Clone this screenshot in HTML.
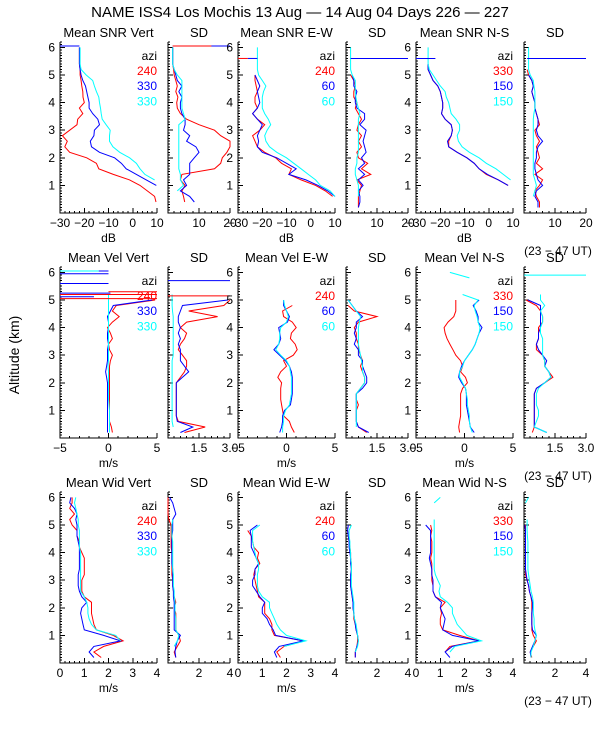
<!DOCTYPE html>
<html><head><meta charset="utf-8"><style>
html,body{margin:0;padding:0;background:#fff;}
svg{display:block;font-family:"Liberation Sans",sans-serif;}
</style></head><body>
<svg id="chart" width="600" height="750" viewBox="0 0 600 750" xmlns="http://www.w3.org/2000/svg">
<rect width="600" height="750" fill="#fff"/>
<text x="300" y="17" font-size="15" text-anchor="middle">NAME ISS4 Los Mochis  13 Aug — 14 Aug 04 Days 226 — 227</text>
<text x="0" y="0" font-size="14" text-anchor="middle" transform="translate(19,355) rotate(-90)">Altitude (km)</text>
<g id="plots"></g>
</svg>
<script>
const N = null;
const hGrid = [0.2,0.4,0.6,0.8,1.0,1.2,1.4,1.6,1.8,2.0,2.2,2.4,2.6,2.8,3.0,3.2,3.4,3.6,3.8,4.0,4.2,4.4,4.6,4.8,5.0,5.2,5.4,5.6,5.8,6.0];

const snrVertR = [N,9.6,9.0,6,3,-1.3,-8,-14,-15,-19,-26,-28,-27,-29,-26,-23,-22.7,-20.6,-22,-20,-20.5,-20.6,-21,-21.3,-21.7,-21.7,-22,-22,-22,-22];
const snrVertB = [N,N,N,N,9.7,5.6,1.5,-2.7,-4.7,-7.5,-13.7,-17,-17.5,-16,-15.8,-13.7,-14.4,-16.5,-18,-18,-18.5,-19,-19.5,-20.6,-21.3,-21.7,-22,-22,-22,-22];
const snrVertC = [N,N,N,N,N,9,5,3,1.5,-1.3,-5.4,-8.2,-9.6,-9.6,-9.3,-11,-12.6,-13,-13.3,-13.7,-14,-15,-15.8,-16.5,-19.2,-21.3,-21.7,-21.7,-21.7,-21.7];
const snrVertSdR = [N,5.4,5,4.5,5.5,4,4.5,15,17,17.5,19,20,20,17,15,10,6,4,3,2.8,3.2,2.5,3,2.5,2,1.8,1.5,1.5,1.5,1.5];
const snrVertSdB = [N,8.5,7,4,6,5,7,7,7,8.5,10,9,6,7,5,5.5,5.5,4.5,4,4,4.5,3.5,4.5,3,2.5,2,1.5,1.5,1.5,1.5];
const snrVertSdC = [N,N,N,3,5,4,4,3.5,3.5,3.5,3.5,3.5,3.5,3.5,3.5,3.5,5.5,5,4.5,4.5,4.5,4.5,4.5,4.5,3,2,1.5,1.5,1.5,1.5];

const snrEwR = [N,N,9,6,2,-4,-9,-8,-12,-14.5,-19,-22,-23,-24,-21,-19,-22,-24,-22,-23,-23,-22,-22.5,-23,-23];
const snrEwB = [N,N,10,7,3,-2,-9,-6,-10,-14,-20,-22,-21.5,-22,-21,-20,-22,-24,-22,-21,-21.5,-22,-21,-22,-23];
const snrEwC = [N,N,10,8,4,2,-1,-4,-7,-10,-14,-17,-18.5,-19,-18,-16.5,-17.5,-19,-20,-20,-20,-19.5,-18.5,-20,-21.5,-22,-22,-22,-22,-22];
const snrEwSdR = [4,4,4,4.5,5,3.5,8,5,7,4,3.5,5,4,5,3.5,4,5,4,3,3.5,2.5,2.5,3,2.5,1.5];
const snrEwSdB = [4,4.5,4.5,4,5.5,4,6,4,6,5,6.5,6,5.5,6,6.5,4.5,6,6,3.5,3,3,3.5,2.5,2.5,2];
const snrEwSdC = [N,N,4,4,4,3.5,3,3,3.5,3.5,4,4,4,4,4,4,4,4.5,4,3.5,3.2,3,3,3,2,1.5,1.5,1.5,1.5,1.5];

const snrNsR = [N,N,N,N,8,4,-1,-4,-6,-9,-13,-16.5,-16.5,-15.5,-15,-15.5,-18,-19.5,-19,-19,-19.5,-20,-21,-23,-24,-25,-25];
const snrNsB = [N,N,N,N,8,4,-0.5,-4,-6,-9,-13,-16.5,-17,-15.5,-15,-15.5,-18,-19.5,-19,-19,-19.5,-20,-21,-23,-24,-25,-25];
const snrNsC = [N,N,N,N,N,9,6,3,-1,-4,-8,-11,-12.5,-13,-12,-12,-13.5,-15.5,-16,-16.5,-17.5,-18,-20,-21.5,-23,-24.5,-25,-25,-25,-25];
const snrNsSdR = [5,5,4,3.5,5,6,3.5,6,4,5,4.5,4,5,4,3.5,5,4.5,4,3.5,3.5,3,2.5,3,2.5,1.5,1];
const snrNsSdB = [4.5,4.5,3.5,4,6,4.5,4,3.5,3.5,4,4,4.5,6,4.5,4,4.5,4.5,4,3.5,3.5,3,2.5,3,2.5,1.5];
const snrNsSdC = [N,N,3,3.5,4,3.5,3,3,3,3,3,3,3,3,3,3,3,3.2,3.5,3.5,3.5,3.5,3.2,3,2,1.5,1.5,1.5,1.5,1.5];

const velVertR = [0.4,0.3,0.1,0.1,0.1,0.1,0.1,0.1,0.1,0.1,0.1,0.1,0.1,0.2,0.4,0.1,0,0.4,0.2,-0.1,0.4,1.1,0.4,0.8,4.8];
const velVertB = [-0.1,-0.1,-0.1,-0.1,-0.1,-0.1,-0.1,-0.1,-0.1,-0.1,-0.2,-0.3,-0.2,-0.1,-0.1,-0.1,0,-0.1,-0.1,0,0,-0.1,0.2,0.5,4.5];
const velVertC = [0.1,0.1,0.1,0.1,0.1,0.05,0,0,0,0,0,0,-0.05,0,0,0,0,0,0,0,0,0,0,0,0,0];
const velVertSdR = [0.8,1.8,0.5,0.4,0.4,0.4,0.4,0.4,0.4,0.4,0.6,0.8,0.9,0.9,0.7,0.5,0.6,0.8,0.9,0.6,0.9,2.4,1.0,2.7,3.0];
const velVertSdB = [0.6,1.2,0.45,0.4,0.4,0.4,0.4,0.4,0.4,0.4,0.7,1.0,0.8,0.6,0.6,0.6,0.5,0.6,0.5,0.6,0.5,0.5,0.6,0.7,2.9];
const velVertSdC = [N,0.25,0.2,0.2,0.2,0.2,0.2,0.2,0.2,0.2,0.2,0.2,0.2,0.2,0.25,0.25,0.25,0.25,0.25,0.25,0.25,0.25,0.22,0.2,0.2,0.2];

const velEwR = [0.8,0.5,0.3,-0.3,-0.4,-0.5,-0.6,-0.6,-0.6,-0.5,-0.9,-0.6,0,-0.3,0.7,1.1,0.9,0.4,0.5,1.0,0.6,-0.3,-0.4,0.6];
const velEwB = [-0.7,-0.5,-0.4,-0.4,-0.2,0.4,0.5,0.6,0.6,0.6,0.6,0.5,0.3,-0.1,-0.7,-1.3,-0.8,-0.6,-0.7,-0.8,0.1,0.3,0,-0.3,-0.3];
const velEwC = [-0.4,-0.4,-0.3,-0.3,-0.1,0.3,0.4,0.5,0.5,0.5,0.5,0.4,0.3,0,-0.6,-1.1,-0.8,-0.7,-0.7,-0.6,0,0.2,0,-0.2,-0.3];
const velEwSdR = [1.0,0.6,0.5,0.5,0.5,0.6,0.5,0.5,0.7,0.9,0.9,0.8,0.7,0.8,0.7,0.6,0.6,0.5,0.5,0.4,0.6,1.5,0.4,0.1];
const velEwSdB = [1.1,0.6,0.5,0.5,0.5,0.5,0.5,0.5,0.8,1.0,1.0,0.9,0.8,0.8,0.6,0.6,0.4,0.5,0.4,0.5,0.5,0.8,0.5,0.3,0.1];
const velEwSdC = [N,0.5,0.5,0.5,0.5,0.5,0.5,0.5,0.7,0.9,0.9,0.8,0.8,0.75,0.7,0.65,0.6,0.6,0.6,0.6,0.65,0.7,0.5,0.3,0.1];

const velNsR = [-0.5,-0.6,-0.5,-0.4,-0.4,-0.4,-0.4,-0.4,-0.2,0.3,0.1,-0.4,-0.2,-0.4,-0.9,-1.2,-1.5,-1.8,-2.0,-2.1,-1.7,-1.1,-0.9,-0.9,-0.9];
const velNsB = [1.0,0.6,0.5,0.4,0.3,0.2,0.2,0.2,0.1,-0.3,-0.6,-0.5,-0.3,0,0.4,0.8,1.1,1.3,1.5,1.8,1.4,1.4,1.2,0.9,1.5];
const velNsC = [0.8,0.6,0.5,0.5,0.4,0.3,0.3,0.2,0.1,-0.2,-0.5,-0.5,-0.2,0,0.4,0.8,1.1,1.3,1.5,1.6,1.4,1.3,1.1,1.0,1.4,-0.2,N,N,0.5,-1.5];
const velNsSdR = [0.4,0.5,0.5,0.5,0.5,0.5,0.5,0.5,0.6,1.0,1.4,1.2,1.0,1.0,0.9,0.6,0.6,0.7,0.7,0.7,0.9,0.9,0.8,0.6,0.1];
const velNsSdB = [1.1,0.5,0.5,0.5,0.5,0.5,0.5,0.5,0.6,1.0,1.3,1.2,1.0,1.1,0.9,0.7,0.6,0.7,0.7,0.8,0.8,0.8,0.8,0.8,0.2];
const velNsSdC = [1.1,0.5,0.6,0.7,0.7,0.6,0.6,0.6,0.7,1.0,1.3,1.2,1.0,1.0,0.9,0.9,0.9,0.9,0.8,0.8,0.9,0.9,0.8,1.0,0.8,0.8];

const widVertR = [1.7,1.4,1.8,2.6,2.2,1.5,1.4,1.35,1.3,1.3,1.3,1.0,0.9,0.9,0.9,1.0,1.0,1.0,1.0,0.9,0.8,0.8,0.7,0.7,0.5,0.4,0.6,0.4,0.5,0.5];
const widVertB = [1.4,1.2,1.4,2.5,1.8,1.0,0.95,0.9,0.85,0.9,1.1,0.9,0.8,0.75,0.75,0.75,0.8,0.8,0.8,0.8,0.8,0.75,0.7,0.7,0.7,0.65,0.7,0.6,0.4,0.45];
const widVertC = [N,N,N,2.5,2.3,1.5,1.3,1.2,1.15,1.15,1.1,1.0,0.85,0.85,0.85,0.85,0.85,0.85,0.85,0.85,0.8,0.8,0.8,0.8,0.75,0.75,0.7,0.65,0.6,0.65];
const widVertSdR = [0.5,0.4,0.6,0.8,0.7,0.5,0.5,0.5,0.5,0.4,0.5,0.4,0.35,0.3,0.3,0.25,0.25,0.25,0.25,0.25,0.2,0.2,0.2,0.2,0.2,0.05,0,0,0,0];
const widVertSdB = [0.5,0.45,0.5,0.6,0.8,0.4,0.4,0.4,0.4,0.4,0.4,0.35,0.35,0.3,0.3,0.3,0.3,0.25,0.25,0.25,0.25,0.25,0.25,0.3,0.3,0.3,0.5,0.4,0.3,0.1];
const widVertSdC = [N,N,0.4,0.6,0.7,0.5,0.5,0.5,0.45,0.45,0.45,0.4,0.4,0.35,0.35,0.35,0.3,0.3,0.3,0.3,0.3,0.3,0.25,0.25,0.25,0.3];

const widEwR = [1.75,1.6,1.9,2.7,1.5,1.4,1.4,1.3,1.1,1.1,1.1,0.85,0.8,0.75,0.7,0.65,0.7,0.9,0.8,0.85,0.65,0.6,0.55,0.4];
const widEwB = [1.6,1.5,1.7,2.7,1.55,1.45,1.3,1.2,1.0,1.0,1.1,0.9,0.75,0.6,0.6,0.7,0.7,0.85,0.75,0.65,0.55,0.55,0.55,0.5,0.8];
const widEwC = [N,N,1.9,2.8,2.0,1.75,1.6,1.5,1.4,1.3,1.3,1.0,0.85,0.8,0.8,0.8,0.85,0.85,0.75,0.7,0.65,0.6,0.6,0.6,0.9];
const widEwSdR = [0.6,0.6,0.7,0.75,0.75,0.65,0.6,0.5,0.5,0.45,0.45,0.4,0.35,0.3,0.3,0.35,0.35,0.35,0.3,0.3,0.25,0.2,0.15,0.1];
const widEwSdB = [0.6,0.6,0.7,0.8,0.75,0.65,0.6,0.55,0.5,0.45,0.45,0.4,0.35,0.3,0.3,0.3,0.35,0.3,0.3,0.25,0.2,0.2,0.15,0.1,0.15];
const widEwSdC = [N,0.6,0.75,0.8,0.75,0.7,0.65,0.55,0.5,0.5,0.5,0.45,0.4,0.35,0.35,0.35,0.35,0.35,0.3,0.3,0.25,0.25,0.2,0.2,0.35];

const widNsR = [N,1.2,1.4,2.6,1.8,1.1,1.0,1.0,1.05,1.0,1.2,0.8,0.7,0.7,0.65,0.65,0.65,0.65,0.6,0.65,0.65,0.65,0.6,0.65,0.6];
const widNsB = [1.4,1.2,1.5,2.6,1.5,1.1,1.15,1.2,1.1,1.0,1.05,0.8,0.7,0.7,0.7,0.65,0.65,0.6,0.55,0.6,0.6,0.6,0.6,0.6,0.4];
const widNsC = [N,1.4,1.6,2.7,2.1,1.9,1.7,1.6,1.5,1.5,1.3,1.0,0.95,1.0,0.9,0.8,0.75,0.75,0.75,0.75,0.75,0.75,0.75,0.75,0.75,0.75,N,N,0.75,1.0];
const widNsSdR = [0.5,0.4,0.6,0.8,0.6,0.5,0.5,0.5,0.5,0.5,0.5,0.45,0.35,0.3,0.2,0.1,0.1,0.1,0.1,0.1,0.1,0.1,0.1,0.1,0.1];
const widNsSdB = [0.45,0.4,0.55,0.7,0.8,0.55,0.5,0.5,0.5,0.55,0.55,0.45,0.35,0.3,0.2,0.15,0.1,0.1,0.1,0.1,0.1,0.1,0.1,0.1,0.05];
const widNsSdC = [0.45,0.45,0.6,0.7,0.8,0.7,0.65,0.65,0.6,0.6,0.6,0.55,0.45,0.4,0.35,0.3,0.25,0.25,0.25,0.25,0.25,0.25,0.22,0.2,0.2,0.2,N,N,0.1,0.3];

// horizontal spike segments: heights, start value, end value, series colour index
const snrVertSpikeH = [6.05], snrVertSpikeA = [-30], snrVertSpikeB = [-22], snrVertSpikeS = [1];
const snrVertSdSpikeH = [6.05,6.05], snrVertSdSpikeA = [1.5,1.5], snrVertSdSpikeB = [20,14], snrVertSdSpikeS = [1,0];
const snrEwSpikeH = [5.6,5.6], snrEwSpikeA = [-26,-30], snrEwSpikeB = [-22,-26], snrEwSpikeS = [1,0];
const snrEwSdSpikeH = [5.6], snrEwSdSpikeA = [1.5], snrEwSdSpikeB = [20], snrEwSdSpikeS = [1];
const snrNsSpikeH = [5.6], snrNsSpikeA = [-30], snrNsSpikeB = [-22], snrNsSpikeS = [1];
const snrNsSdSpikeH = [5.6], snrNsSdSpikeA = [1], snrNsSdSpikeB = [20], snrNsSdSpikeS = [1];
const velVertSpikeH = [6.05,5.95,5.6,5.25,5.12,5.3,5.2,5.05,6.05];
const velVertSpikeA = [-5,-5,-5,-5,-5,0,-5,-5,-5];
const velVertSpikeB = [0,0,0,0.2,-1.5,5,5,5,-1];
const velVertSpikeS = [1,1,1,1,1,0,0,0,2];
const velVertSdSpikeH = [5.15,5.7], velVertSdSpikeA = [0,0], velVertSdSpikeB = [3,3], velVertSdSpikeS = [0,1];
const velNsSdSpikeH = [5.9], velNsSdSpikeA = [0], velNsSdSpikeB = [3], velNsSdSpikeS = [2];

const colors = ['#ff0000','#0000ff','#00ffff'];
const wideLeft = [60,238,416], sdLeft = [168,346,524];
const wideW = 97, sdW = 62;
const rowBottom = [213,438,663];
const kmPx = 27.6, hMax = 6.2;

const rowsCfg = [
 {name:'snr', titles:['Mean SNR Vert','Mean SNR E-W','Mean SNR N-S'], wx:[-30,10], wt:[-30,-20,-10,0,10], wlab:['−30','−20','−10','0','10'], wm:2,
  sx:[0,20], st:[0,10,20], slab:['','10','20'], sm:2, unit:'dB',
  data:[[snrVertR,snrVertB,snrVertC],[snrEwR,snrEwB,snrEwC],[snrNsR,snrNsB,snrNsC]],
  sd:[[snrVertSdR,snrVertSdB,snrVertSdC],[snrEwSdR,snrEwSdB,snrEwSdC],[snrNsSdR,snrNsSdB,snrNsSdC]],
  spk:[[snrVertSpikeH,snrVertSpikeA,snrVertSpikeB,snrVertSpikeS],[snrEwSpikeH,snrEwSpikeA,snrEwSpikeB,snrEwSpikeS],[snrNsSpikeH,snrNsSpikeA,snrNsSpikeB,snrNsSpikeS]],
  sdspk:[[snrVertSdSpikeH,snrVertSdSpikeA,snrVertSdSpikeB,snrVertSdSpikeS],[snrEwSdSpikeH,snrEwSdSpikeA,snrEwSdSpikeB,snrEwSdSpikeS],[snrNsSdSpikeH,snrNsSdSpikeA,snrNsSdSpikeB,snrNsSdSpikeS]]},
 {name:'vel', titles:['Mean Vel Vert','Mean Vel E-W','Mean Vel N-S'], wx:[-5,5], wt:[-5,0,5], wlab:['−5','0','5'], wm:1,
  sx:[0,3], st:[0,1.5,3], slab:['','1.5','3.0'], sm:0.3, unit:'m/s',
  data:[[velVertR,velVertB,velVertC],[velEwR,velEwB,velEwC],[velNsR,velNsB,velNsC]],
  sd:[[velVertSdR,velVertSdB,velVertSdC],[velEwSdR,velEwSdB,velEwSdC],[velNsSdR,velNsSdB,velNsSdC]],
  spk:[[velVertSpikeH,velVertSpikeA,velVertSpikeB,velVertSpikeS],null,null],
  sdspk:[[velVertSdSpikeH,velVertSdSpikeA,velVertSdSpikeB,velVertSdSpikeS],null,[velNsSdSpikeH,velNsSdSpikeA,velNsSdSpikeB,velNsSdSpikeS]]},
 {name:'wid', titles:['Mean Wid Vert','Mean Wid E-W','Mean Wid N-S'], wx:[0,4], wt:[0,1,2,3,4], wlab:['0','1','2','3','4'], wm:0.2,
  sx:[0,4], st:[0,2,4], slab:['','2','4'], sm:0.4, unit:'m/s',
  data:[[widVertR,widVertB,widVertC],[widEwR,widEwB,widEwC],[widNsR,widNsB,widNsC]],
  sd:[[widVertSdR,widVertSdB,widVertSdC],[widEwSdR,widEwSdB,widEwSdC],[widNsSdR,widNsSdB,widNsSdC]],
  spk:[null,null,null], sdspk:[null,null,null]}
];
const legends = [['240','330','330'],['240','60','60'],['330','150','150']];

const NS = 'http://www.w3.org/2000/svg';
const root = document.getElementById('plots');
function mk(tag, attrs, parent){
  const e = document.createElementNS(NS, tag);
  for (const k in attrs) e.setAttribute(k, attrs[k]);
  (parent||root).appendChild(e);
  return e;
}

function drawPanel(r, c, isSd){
  const cfg = rowsCfg[r];
  const left = isSd ? sdLeft[c] : wideLeft[c];
  const w = isSd ? sdW : wideW;
  const xr = isSd ? cfg.sx : cfg.wx;
  const bottom = rowBottom[r];
  const top = bottom - hMax*kmPx;
  const xs = v => left + (v - xr[0])/(xr[1]-xr[0])*w;
  const ys = h => bottom - h*kmPx;
  const g = mk('g', {});
  
  
  // title
  const t = mk('text', {x: left + w/2, y: top - 5, 'font-size': 13, 'text-anchor': 'middle'}, g);
  t.textContent = isSd ? 'SD' : cfg.titles[c];
  
  
  // axes
  let d = `M${left} ${top}V${bottom}H${left+w}`;
  for (let k = 1; k <= 62; k++){
    const y = ys(k/10);
    const len = (k % 10 === 0) ? 5 : 2;
    d += `M${left} ${y.toFixed(1)}h${len}`;
  }
  const ticks = isSd ? cfg.st : cfg.wt;
  const minor = isSd ? cfg.sm : cfg.wm;
  for (let v = xr[0]; v <= xr[1] + 1e-9; v += minor){
    d += `M${xs(v).toFixed(1)} ${bottom}v-2`;
  }
  ticks.forEach(v => { d += `M${xs(v).toFixed(1)} ${bottom}v-5`; });
  const ax = mk('path', {d: d, stroke: '#000', fill: 'none', 'stroke-width': 1, 'shape-rendering': 'crispEdges'}, g);
  
  
  // x tick labels
  const labs = isSd ? cfg.slab : cfg.wlab;
  ticks.forEach((v, i) => {
    if (!labs[i]) return;
    const tl = mk('text', {x: xs(v), y: bottom + 14, 'font-size': 12, 'text-anchor': 'middle'}, g);
    tl.textContent = labs[i];
    
    
  });
  if (!isSd){
    for (let k = 1; k <= 6; k++){
      const yl = mk('text', {x: left - 5, y: ys(k) + 4, 'font-size': 12, 'text-anchor': 'end'}, g);
      yl.textContent = String(k);
      
      
    }
    const u = mk('text', {x: left + w/2, y: bottom + 29, 'font-size': 12, 'text-anchor': 'middle'}, g);
    u.textContent = cfg.unit;
    
    
    const lg = legends[c];
    const az = mk('text', {x: left + w, y: top + 18, 'font-size': 12, 'text-anchor': 'end'}, g);
    az.textContent = 'azi';
    
    
    lg.forEach((s, i) => {
      const le = mk('text', {x: left + w, y: top + 33 + i*15.3, 'font-size': 12, 'text-anchor': 'end', fill: colors[i]}, g);
      le.textContent = s;
      
      
    });
  } else if (c === 2){
    const ut = mk('text', {x: left + w/2 + 3, y: bottom + 42, 'font-size': 12, 'text-anchor': 'middle'}, g);
    ut.textContent = '(23 − 47 UT)';
    
    
  }
  // series
  const seriesSet = isSd ? cfg.sd[c] : cfg.data[c];
  seriesSet.forEach((vals, si) => {
    let pd = '', pen = false;
    hGrid.forEach((h, i) => {
      const v = vals[i];
      if (v === null || v === undefined){ pen = false; return; }
      const cx = Math.max(left - 2, Math.min(left + w + 4, xs(v)));
      pd += (pen ? 'L' : 'M') + cx.toFixed(1) + ' ' + ys(h).toFixed(1);
      pen = true;
    });
    const p = mk('path', {d: pd, stroke: colors[si], fill: 'none', 'stroke-width': 1}, g);
    
    
  });
  const sp = isSd ? cfg.sdspk[c] : cfg.spk[c];
  if (sp){
    sp[0].forEach((h, i) => {
      const l = mk('line', {x1: xs(sp[1][i]), x2: xs(sp[2][i]), y1: ys(h), y2: ys(h), stroke: colors[sp[3][i]], 'stroke-width': 1}, g);
      
      
    });
  }
}

for (let r = 0; r < 3; r++){
  for (let c = 0; c < 3; c++){
    drawPanel(r, c, false);
    drawPanel(r, c, true);
  }
}
</script>
</body></html>
